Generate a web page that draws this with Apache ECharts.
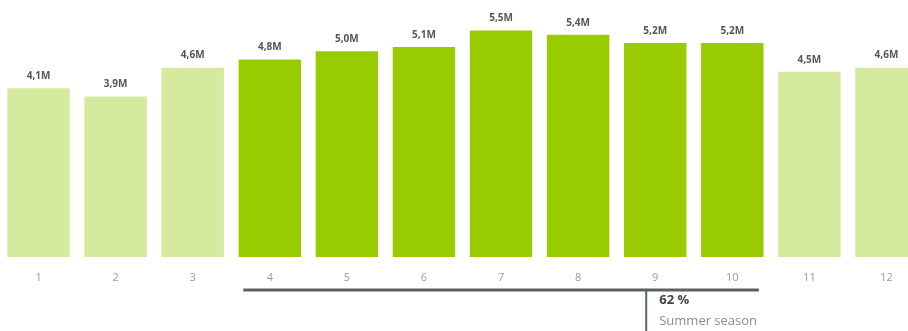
<!DOCTYPE html>
<html>
<head>
<meta charset="utf-8">
<script src="https://cdn.jsdelivr.net/npm/echarts@6/dist/echarts.min.js"></script>
<style>
  html, body { margin: 0; padding: 0; background: #fff; overflow: hidden; width: 908px; height: 331px; }
  /* the last month's bar runs past the right edge of the view */
  #chart { width: 925px; height: 331px; }
</style>
</head>
<body>
<div id="chart"></div>
<script>
// Monthly visitors (millions)
const months = ['1', '2', '3', '4', '5', '6', '7', '8', '9', '10', '11', '12'];
const visitors = [4.1, 3.9, 4.6, 4.8, 5.0, 5.1, 5.5, 5.4, 5.2, 5.2, 4.5, 4.6];
// Summer season runs from month 4 to month 10
const seasonStart = 3;
const seasonEnd = 9;
const seasonShare = '62 %';
const seasonName = 'Summer season';

const lightGreen = '#d5ea9e';
const darkGreen = '#99cc00';

const chart = echarts.init(document.getElementById('chart'), null, { renderer: 'canvas' });

const barData = visitors.map((v, i) => ({
  value: v,
  itemStyle: { color: (i >= seasonStart && i <= seasonEnd) ? darkGreen : lightGreen }
}));

chart.setOption({
  animation: false,
  grid: { left: 0, top: 10, right: 0, bottom: 74, containLabel: false },
  xAxis: {
    type: 'category',
    data: months,
    axisLine: { show: false },
    axisTick: { show: false },
    axisLabel: { color: '#9a9a9a', fontSize: 11, fontFamily: 'Open Sans', margin: 15 }
  },
  yAxis: {
    type: 'value', min: 0, max: 6,
    show: false
  },
  series: [{
    type: 'bar',
    data: barData,
    barCategoryGap: '19%',
    label: {
      show: true,
      position: 'top',
      distance: 7,
      color: '#555',
      fontSize: 10,
      fontWeight: 'bold',
      fontFamily: 'Open Sans',
      formatter: p => String(p.value.toFixed(1)).replace('.', ',') + 'M'
    }
  }]
});

// Bracket under the summer months with its share annotation
function drawBracket() {
  const x0 = chart.convertToPixel({ xAxisIndex: 0 }, seasonStart);
  const x1 = chart.convertToPixel({ xAxisIndex: 0 }, seasonEnd);
  const half = (x1 - x0) / (seasonEnd - seasonStart) / 2;
  const left = x0 - half + 12;
  const right = x1 + half - 12;
  const stemX = chart.convertToPixel({ xAxisIndex: 0 }, seasonEnd - 1) - 9;
  const y = 290;
  chart.setOption({
    graphic: [
      { type: 'line', shape: { x1: left, y1: y, x2: right, y2: y },
        style: { stroke: '#5b6262', lineWidth: 3 } },
      { type: 'line', shape: { x1: stemX, y1: y, x2: stemX, y2: 331 },
        style: { stroke: '#5b6262', lineWidth: 2 } },
      { type: 'text', x: stemX + 13, y: 300, style: {
          text: seasonShare, fill: '#444', fontSize: 13, fontWeight: 'bold',
          fontFamily: 'Open Sans', verticalAlign: 'middle' } },
      { type: 'text', x: stemX + 13, y: 321, style: {
          text: seasonName, fill: '#8a8a8a', fontSize: 13,
          fontFamily: 'Open Sans', verticalAlign: 'middle' } }
    ]
  });
}
drawBracket();
</script>
</body>
</html>
